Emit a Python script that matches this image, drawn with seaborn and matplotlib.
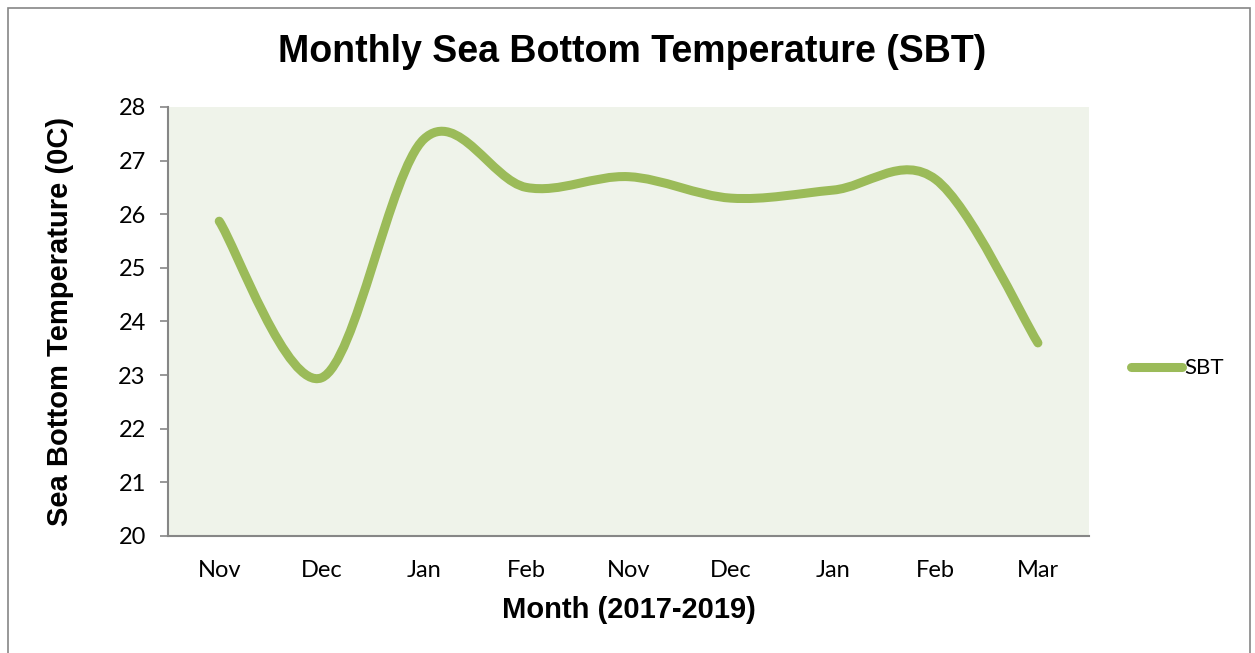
import matplotlib
matplotlib.use("Agg")
import matplotlib.pyplot as plt
from matplotlib.path import Path
from matplotlib.patches import PathPatch, Rectangle
from matplotlib.lines import Line2D
import seaborn as sns
import numpy as np

months = ["Nov", "Dec", "Jan", "Feb", "Nov", "Dec", "Jan", "Feb", "Mar"]
sbt = [25.87, 22.95, 27.4, 26.5, 26.7, 26.3, 26.45, 26.65, 23.6]

green = "#9BBB59"
grey = "#868686"

sns.set_style("white")
plt.rcParams["font.family"] = ["Lato", "DejaVu Sans"]
plt.rcParams["text.color"] = "black"
plt.rcParams["xtick.labelcolor"] = "black"
plt.rcParams["ytick.labelcolor"] = "black"


def smooth_path(xs, ys):
    # excel style smoothed line: bezier segments with catmull-rom tangents
    pts = np.column_stack([xs, ys]).astype(float)
    ext = np.vstack([pts[0], pts, pts[-1]])
    verts = [pts[0]]
    codes = [Path.MOVETO]
    for i in range(len(pts) - 1):
        p0, p1, p2, p3 = ext[i], ext[i + 1], ext[i + 2], ext[i + 3]
        c1 = p1 + (p2 - p0) / 6
        c2 = p2 - (p3 - p1) / 6
        verts += [c1, c2, p2]
        codes += [Path.CURVE4] * 3
    return Path(verts, codes)


fig = plt.figure(figsize=(12.55, 6.53), dpi=100)
ax = fig.add_axes([0.1339, 0.1792, 0.7339, 0.6570])
ax.set_facecolor("#EFF3EA")

x = np.arange(len(months))
ax.add_patch(PathPatch(smooth_path(x, sbt), facecolor="none", edgecolor=green,
                       lw=6.5, capstyle="round", joinstyle="round"))

ax.set_xlim(-0.5, len(months) - 0.5)
ax.set_ylim(20, 28)
ax.set_xticks(x)
ax.set_xticklabels(months)
ax.set_yticks(range(20, 29))

for s in ["top", "right"]:
    ax.spines[s].set_visible(False)
for s in ["left", "bottom"]:
    ax.spines[s].set_color(grey)
    ax.spines[s].set_linewidth(1.5)

ax.tick_params(axis="y", length=6, width=1.2, color=grey, pad=10, labelsize=17, left=True)
ax.tick_params(axis="x", length=0, pad=17, labelsize=17)

bold = ["Liberation Sans", "DejaVu Sans"]
fig.text(0.504, 0.920, "Monthly Sea Bottom Temperature (SBT)", ha="center", va="center",
         fontsize=27, fontweight="bold", family=bold)
fig.text(0.501, 0.066, "Month (2017-2019)", ha="center", va="center",
         fontsize=21, fontweight="bold", family=bold)
fig.text(0.048, 0.507, "Sea Bottom Temperature (0C)", ha="center", va="center", rotation=90,
         fontsize=21, fontweight="bold", family=bold)

handle = Line2D([], [], color=green, lw=6.5, solid_capstyle="round")
fig.legend([handle], ["SBT"], loc="center left", bbox_to_anchor=(0.901, 0.436),
           frameon=False, fontsize=16, handlelength=2.3, handletextpad=0.1,
           borderaxespad=0, borderpad=0)

fig.patches.append(Rectangle((8 / 1255, -0.05), 1242 / 1255, 1 - 8 / 653 + 0.05,
                             transform=fig.transFigure, fill=False, edgecolor=grey, lw=1.2))

fig.savefig("out.png", dpi=100)
